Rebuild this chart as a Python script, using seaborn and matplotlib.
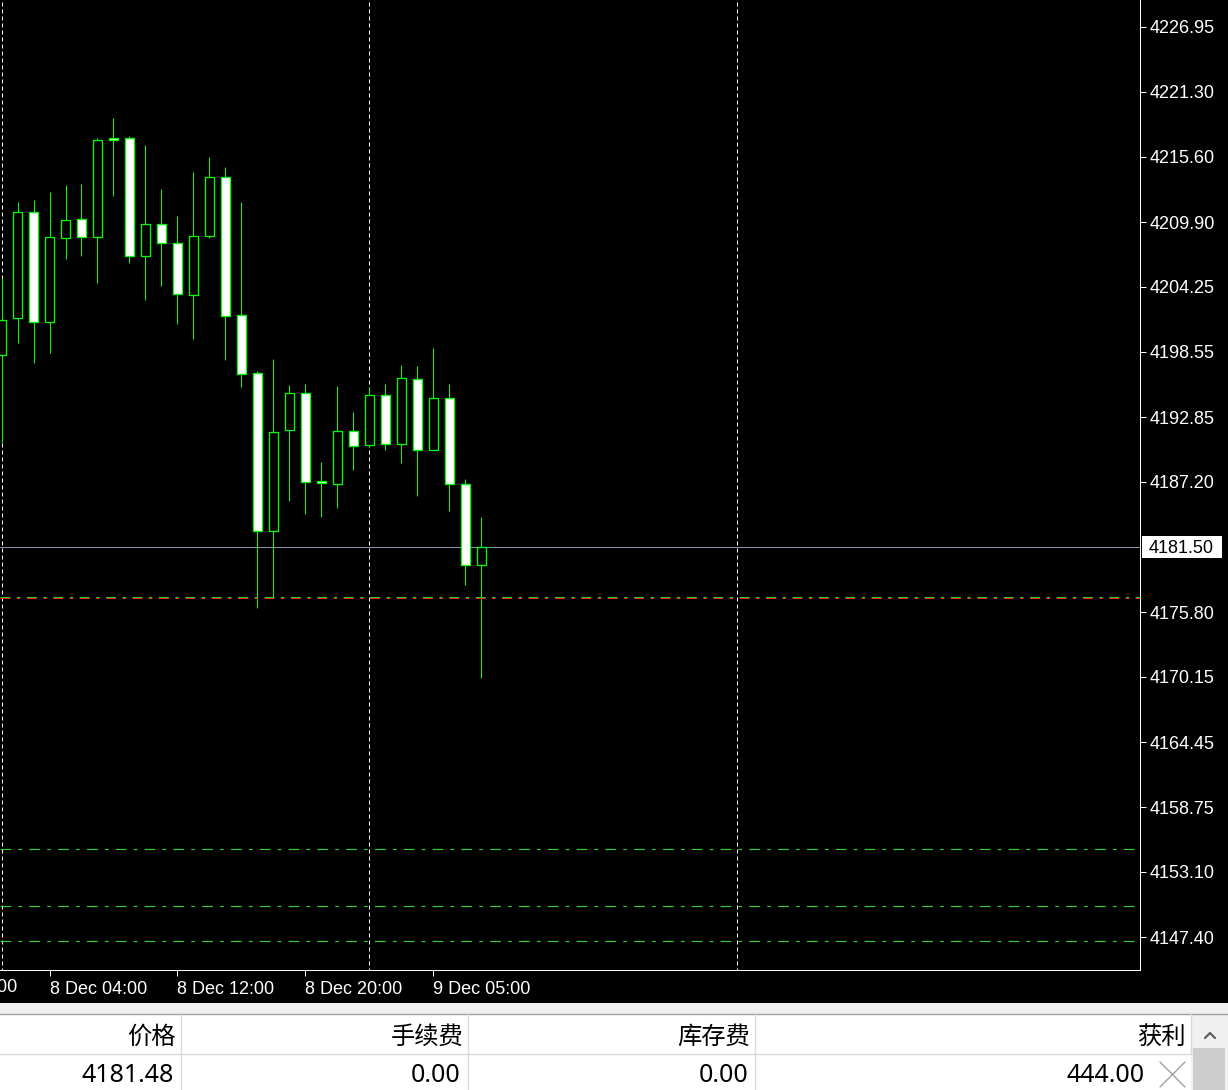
import matplotlib
matplotlib.use("Agg")
import matplotlib.pyplot as plt
import matplotlib.transforms as mtransforms
from matplotlib.patches import Rectangle
import seaborn as sns

# ---- H1 candles (8 Dec 01:00 -> 9 Dec 06:00) ----
opens = [4198.31, 4201.49, 4210.75, 4201.14, 4208.48, 4210.14, 4208.57, 4217.22,
         4217.22, 4206.91, 4209.70, 4208.04, 4203.50, 4208.65, 4213.81, 4201.75,
         4196.68, 4182.87, 4191.70, 4194.93, 4187.24, 4186.98, 4191.61, 4190.39,
         4194.76, 4190.47, 4196.15, 4189.95, 4194.49, 4186.98, 4179.90]
highs = [4205.05, 4211.65, 4211.83, 4212.53, 4213.14, 4213.23, 4217.22, 4219.00,
         4217.42, 4216.64, 4212.79, 4210.43, 4214.28, 4215.59, 4214.71, 4211.65,
         4196.88, 4197.93, 4195.66, 4195.74, 4188.90, 4195.57, 4193.30, 4195.51,
         4195.74, 4197.40, 4197.32, 4198.89, 4195.74, 4187.41, 4184.12]
lows = [4190.61, 4199.35, 4197.55, 4198.48, 4206.70, 4206.96, 4204.60, 4212.20,
        4206.35, 4203.11, 4204.34, 4201.01, 4199.70, 4208.48, 4197.87, 4195.51,
        4176.19, 4177.15, 4185.54, 4184.41, 4184.14, 4184.93, 4188.25, 4190.24,
        4190.00, 4188.86, 4185.98, 4189.95, 4184.67, 4178.20, 4170.02]
closes = [4201.36, 4210.75, 4201.14, 4208.57, 4210.05, 4208.57, 4217.05, 4217.05,
          4206.91, 4209.70, 4208.04, 4203.58, 4208.65, 4213.81, 4201.66, 4196.59,
          4182.87, 4191.52, 4194.93, 4187.20, 4187.06, 4191.61, 4190.30, 4194.76,
          4190.47, 4196.24, 4189.95, 4194.49, 4186.98, 4179.90, 4181.50]

# price axis labels
y_ticks = [4226.95, 4221.30, 4215.60, 4209.90, 4204.25, 4198.55, 4192.85, 4187.20,
           4175.80, 4170.15, 4164.45, 4158.75, 4153.10, 4147.40]
y_tick_labels = ["%.2f" % v for v in y_ticks]

# time axis labels (bar index -> label)
x_tick_idx = [-5, 3, 11, 19, 27]
x_tick_labels = ["5 Dec 19:00", "8 Dec 04:00", "8 Dec 12:00", "8 Dec 20:00", "9 Dec 05:00"]

# day separators (bar index)
day_sep = [0, 23, 46]

bid_price = 4181.50
order_open = 4177.13
order_stop = 4177.04
green_levels = [4155.07, 4150.11, 4147.05]

# bottom trade table
table_headers = ["价格", "手续费", "库存费", "获利"]
table_values = ["4181.48", "0.00", "0.00", "444.00"]

# ---- style ----
sns.set_theme(style="dark")
plt.rcParams['font.family'] = ['Liberation Sans', 'Noto Sans CJK SC', 'DejaVu Sans']

W, H = 1228, 1090
fig = plt.figure(figsize=(W / 100, H / 100), dpi=100, facecolor="black")
ax = fig.add_axes([0, 1 - 970 / H, 1140 / W, 970 / H])
ax.set_facecolor("black")
ax.grid(False)

px = 0.72  # one pixel in points

# separators (behind candles)
ax.vlines(day_sep, 4100, 4300, colors="white", linewidth=px,
          linestyles=[(0, (4, 3))], zorder=1)

# candles
idx = list(range(len(opens)))
bull = [c > o for o, c in zip(opens, closes)]
ax.vlines(idx, lows, highs, colors="#00ff00", linewidth=px, zorder=2)
bottoms = [min(o, c) for o, c in zip(opens, closes)]
heights = [abs(c - o) for o, c in zip(opens, closes)]
ax.bar(idx, heights, bottom=bottoms, width=0.6,
       color=["black" if b else "white" for b in bull],
       edgecolor="#00ff00", linewidth=px * 1.3, zorder=3)

# bid line
ax.axhline(bid_price, color="#8a96a6", linewidth=px, zorder=1.5)

# order / level lines
dash = (0, (9, 6, 3, 6))
ax.axhline(order_open, color="#22dd22", linewidth=px * 1.1, linestyle=dash, zorder=4)
ax.axhline(order_stop, color="#ff1a1a", linewidth=px * 1.1, linestyle=dash, zorder=4)
for lv in green_levels:
    ax.axhline(lv, color="#33cc33", linewidth=px * 1.2, linestyle=dash, zorder=1.5)

ax.set_xlim(-0.094, 71.16)
ax.set_ylim(4144.52, 4229.31)

# axes frame
for s in ["top", "left"]:
    ax.spines[s].set_visible(False)
for s in ["right", "bottom"]:
    ax.spines[s].set_visible(True)
    ax.spines[s].set_color("white")
    ax.spines[s].set_linewidth(px)

ax.yaxis.tick_right()
ax.set_yticks(y_ticks, labels=y_tick_labels)
ax.tick_params(axis="y", colors="white", length=4, width=px, pad=3,
               labelsize=13, direction="out", right=True, left=False)

vis = [(i, l) for i, l in zip(x_tick_idx, x_tick_labels) if i >= 0]
ax.set_xticks([i for i, _ in vis], labels=[l for _, l in vis])
ax.tick_params(axis="x", colors="white", length=4, width=px, pad=4,
               labelsize=13, direction="out", bottom=True)
for lab in ax.get_xticklabels():
    lab.set_horizontalalignment("left")
# label of a bar left of the visible window (cut by the window edge, as in the terminal)
bt = mtransforms.blended_transform_factory(ax.transData, ax.transAxes)
for i, l in zip(x_tick_idx, x_tick_labels):
    if i < 0:
        ax.text(i - 0.1, -17 / 970, l, transform=bt, color="white", fontsize=13,
                ha="left", va="center", clip_on=False)

# bid price box on the price scale
yt = mtransforms.blended_transform_factory(ax.transAxes, ax.transData)
ax.add_patch(Rectangle((1142 / 1140, bid_price - 11 / 11.44), 80 / 1140, 22 / 11.44,
                       transform=yt, facecolor="white", edgecolor="none",
                       clip_on=False, zorder=5))
ax.text(1149 / 1140, bid_price - 0.12, "%.2f" % bid_price, transform=yt, color="black",
        fontsize=13, ha="left", va="center", clip_on=False, zorder=6)

# ---- trade table below the chart ----
tab = fig.add_axes([0, 0, 1, 87 / H])
tab.set_xlim(0, W)
tab.set_ylim(H, 1003)
tab.axis("off")
tab.add_patch(Rectangle((0, 1003), W, 11, facecolor="#f0f0f0", edgecolor="none"))
tab.add_patch(Rectangle((0, 1014), 1191, 76, facecolor="white", edgecolor="none"))
tab.add_patch(Rectangle((1191, 1014), 37, 76, facecolor="#f0f0f0", edgecolor="none"))
tab.add_patch(Rectangle((1193, 1048), 32, 42, facecolor="#cdcdcd", edgecolor="none"))
tab.plot([0, W], [1014, 1014], color="#a0a0a0", linewidth=1)
tab.plot([0, 1191], [1054, 1054], color="#d9d9d9", linewidth=1)
for xc in [181, 468, 755]:
    tab.plot([xc, xc], [1014, 1090], color="#d9d9d9", linewidth=1)
tab.plot([1191, 1191], [1014, 1054], color="#d9d9d9", linewidth=1)

head_right = [176, 463, 750, 1186]
val_right = [174, 461, 748, 1145]
tfont = ['Noto Sans', 'Noto Sans CJK SC']
for h, xr in zip(table_headers, head_right):
    tab.text(xr, 1038, h, ha="right", va="center", fontsize=17.5, color="black", family=tfont)
for v, xr in zip(table_values, val_right):
    tab.text(xr, 1075, v, ha="right", va="center", fontsize=18, color="black", family=tfont)

# close icon and scroll arrow
tab.plot([1160, 1185], [1062, 1087], color="#a0a0a0", linewidth=1)
tab.plot([1160, 1185], [1087, 1062], color="#a0a0a0", linewidth=1)
tab.plot([1205, 1210, 1215], [1038, 1033, 1038], color="#606060", linewidth=1.6)

fig.savefig("out.png", dpi=100, facecolor="black")
